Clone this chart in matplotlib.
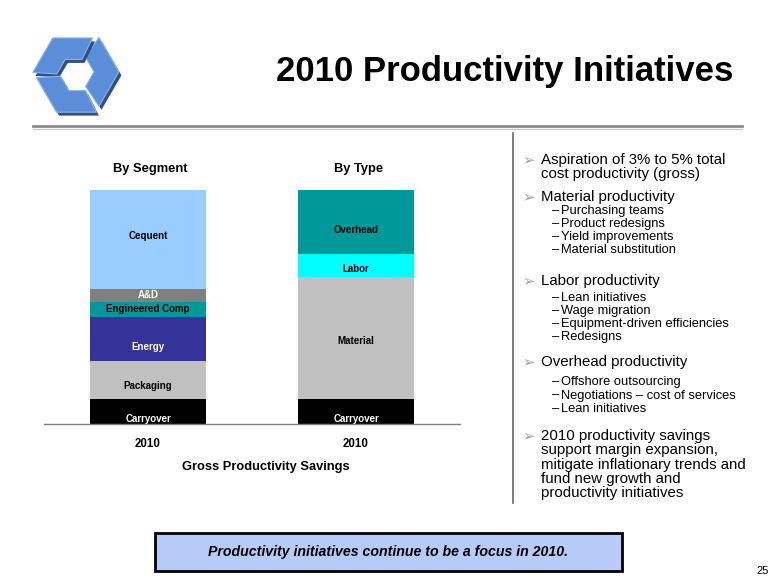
import matplotlib
matplotlib.use('Agg')
import numpy as np
import matplotlib.pyplot as plt
from matplotlib.patches import Polygon, Rectangle
from matplotlib.lines import Line2D

# Chart data
bar_names = ['2010', '2010']
bar_titles = ['By Segment', 'By Type']
segment_labels = ['Carryover', 'Packaging', 'Energy', 'Engineered Comp', 'A&D', 'Cequent']
segment_values = [10.6, 16.5, 18.8, 6.2, 5.7, 42.2]
type_labels = ['Carryover', 'Material', 'Labor', 'Overhead']
type_values = [10.6, 52.1, 10.0, 27.3]
x_title = 'Gross Productivity Savings'
title = '2010 Productivity Initiatives'

# Slide text
bullets = [
    (['Aspiration of 3% to 5% total', 'cost productivity (gross)'], []),
    (['Material productivity'],
     ['Purchasing teams', 'Product redesigns', 'Yield improvements', 'Material substitution']),
    (['Labor productivity'],
     ['Lean initiatives', 'Wage migration', 'Equipment-driven efficiencies', 'Redesigns']),
    (['Overhead productivity'],
     ['Offshore outsourcing', 'Negotiations \u2013 cost of services', 'Lean initiatives']),
    (['2010 productivity savings', 'support margin expansion,', 'mitigate inflationary trends and',
      'fund new growth and', 'productivity initiatives'], []),
]
callout = 'Productivity initiatives continue to be a focus in 2010.'
page_no = '25'

# Styling / layout
segment_colors = ['#000000', '#C0C0C0', '#333399', '#009999', '#808080', '#99CCFF']
segment_text = ['white', 'black', 'white', 'black', 'white', 'black']
segment_pos = [0.2, 0.34, 0.30, 0.5, 0.5, 0.53]
type_colors = ['#000000', '#C0C0C0', '#00FFFF', '#009999']
type_text = ['white', 'black', 'black', 'black']
type_pos = [0.2, 0.48, 0.37, 0.37]
# y of first line of each group, y of first sub item
main_y = [160, 196.7, 280.7, 361.7, 435.7]
sub_y = [None, 210.7, 297.7, 382.3, None]
main_step, sub_step = 14.4, 13.2

W, H = 780, 585


def fx(x):
    return x / W


def fy(y):
    return 1 - y / H


plt.rcParams['font.family'] = ['Liberation Sans', 'DejaVu Sans']
fig = plt.figure(figsize=(7.8, 5.85), dpi=100)

# logo: three chevrons cut from a hexagonal ring
lax = fig.add_axes([fx(28), fy(122), 96 / W, 96 / H])
lax.set_xlim(-1.12, 1.12)
lax.set_ylim(-1.12, 1.12)
lax.set_aspect('equal')
lax.axis('off')


def hexpt(ang, r):
    return np.array([np.cos(np.radians(ang)), np.sin(np.radians(ang))]) * r


for k in range(3):
    a0 = 120 * k
    pts = []
    for r, order in [(1.0, 1), (0.42, -1)]:
        vm, v0, vp = hexpt(a0 - 60, r), hexpt(a0, r), hexpt(a0 + 60, r)
        seq = [vm + 0.07 * (v0 - vm), v0, vp + 0.07 * (v0 - vp)]
        pts += seq[::order]
    pts = np.array(pts) + hexpt(a0 + 90, 0.05)
    lax.add_patch(Polygon(pts + [0.06, -0.08], closed=True, color='#2F4F86', lw=0))
    lax.add_patch(Polygon(pts, closed=True, facecolor='#5B8ED8', edgecolor='#8DB3EA', lw=0.8))

fig.text(fx(505), fy(72), title, ha='center', va='center', fontsize=25, weight='bold')
fig.add_artist(Line2D([fx(33), fx(742)], [fy(126), fy(126)], color='#8C8C8C', lw=2))
fig.add_artist(Line2D([fx(33), fx(742)], [fy(128.5), fy(128.5)], color='#C8C8C8', lw=1))

# chart
ax = fig.add_axes([fx(44), fy(424), 416 / W, 234 / H])
ax.set_xlim(-0.5, 1.5)
ax.set_ylim(0, 100)
stacks = [(segment_labels, segment_values, segment_colors, segment_text, segment_pos),
          (type_labels, type_values, type_colors, type_text, type_pos)]
for i, (labs, vals, cols, tcols, tpos) in enumerate(stacks):
    bottom = 0
    for lab, v, c, tc, p in zip(labs, vals, cols, tcols, tpos):
        ax.bar(i, v, bottom=bottom, width=0.558, color=c, lw=0)
        ax.text(i, bottom + v * p, lab, ha='center', va='center', fontsize=7,
                weight='bold', color=tc)
        bottom += v
    ax.text(i + 0.01, 108.8, bar_titles[i], ha='center', va='center', fontsize=9.3,
            weight='bold', clip_on=False)
for s in ['top', 'left', 'right']:
    ax.spines[s].set_visible(False)
ax.spines['bottom'].set_color('#808080')
ax.spines['bottom'].set_linewidth(1)
ax.set_yticks([])
ax.set_xticks([0, 1])
ax.set_xticklabels(bar_names, fontsize=8.3, weight='bold')
ax.tick_params(axis='x', length=0, pad=10)
fig.text(fx(266), fy(467), x_title, ha='center', va='center', fontsize=9.3, weight='bold')

# separator
fig.add_artist(Line2D([fx(513), fx(513)], [fy(133), fy(503)], color='#666666', lw=1.2))

# bullets
for (mains, subs), my, sy in zip(bullets, main_y, sub_y):
    fig.text(fx(522), fy(my), '\u27a2', ha='left', va='center', fontsize=10.5,
             color='#A0A0A0', family=['DejaVu Sans'])
    for j, line in enumerate(mains):
        fig.text(fx(541), fy(my + j * main_step), line, ha='left', va='center', fontsize=10.8)
    for j, line in enumerate(subs):
        fig.text(fx(551.5), fy(sy + j * sub_step), '\u2013', ha='left', va='center',
                 fontsize=9.3)
        fig.text(fx(561), fy(sy + j * sub_step), line, ha='left', va='center',
                 fontsize=9.3)

# callout box
fig.add_artist(Rectangle((fx(155), fy(571)), (622 - 155) / W, (571 - 533) / H,
                         transform=fig.transFigure, facecolor='#B7CBF8',
                         edgecolor='black', lw=2))
fig.text(fx(388.5), fy(552), callout, ha='center', va='center', fontsize=10.2,
         weight='bold', style='italic')
fig.text(fx(763), fy(571), page_no, ha='center', va='center', fontsize=8)

fig.savefig('out.png', dpi=100)
